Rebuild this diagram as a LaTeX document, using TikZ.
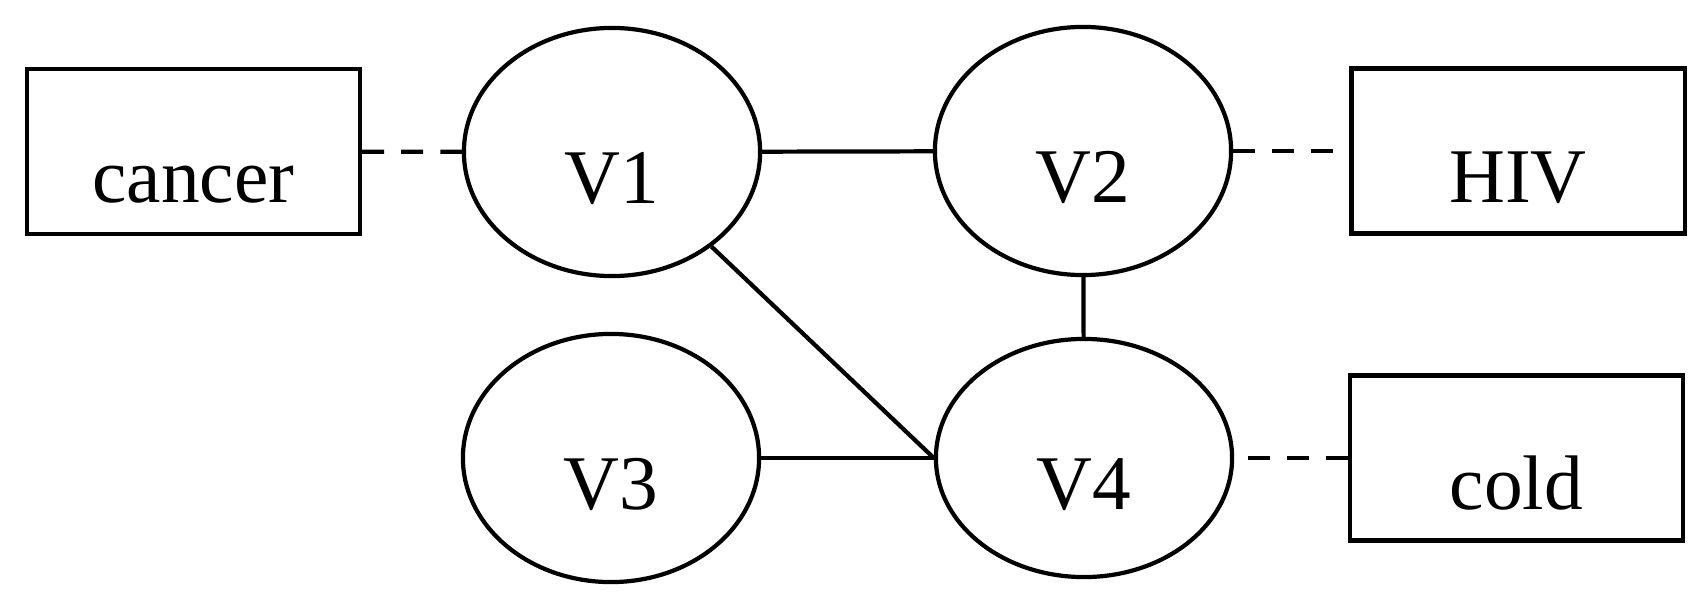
\documentclass[tikz,border=0pt]{standalone}
\usepackage{fontspec}
\setmainfont{Liberation Serif}
\usetikzlibrary{shapes.geometric}
\begin{document}
\begin{tikzpicture}[x=0.01cm, y=-0.01cm, line width=1.2pt,
    every node/.style={font=\fontsize{22}{26}\selectfont, inner sep=0pt, text height=1.02cm, text depth=0pt},
    var/.style={draw, ellipse, minimum width=2.96cm, minimum height=2.48cm},
    disease/.style={draw, rectangle, minimum width=3.33cm, minimum height=1.65cm},
    assoc/.style={dash pattern=on 0.22cm off 0.17cm}]

      % גבולות התמונה
      \useasboundingbox (0,0) rectangle (1706,603);

      % משתנים חבויים
      \node[var] (V1) at (612,152) {V1};
      \node[var] (V2) at (1083,151) {V2};
      \node[var] (V3) at (611,458) {V3};
      \node[var, minimum height=2.38cm] (V4) at (1084,458) {V4};

      % מחלות
      \node[disease] (cancer) at (193.5,151.5) {cancer};
      \node[disease] (HIV) at (1518,151) {HIV};
      \node[disease] (cold) at (1516.5,458) {cold};

      % קשרים בין המשתנים
      \draw (V1) -- (V2);
      \draw (V1) -- (V4.west);
      \draw (V2) -- (V4);
      \draw (V3) -- (V4);

      % קשרים למחלות (מקווקו)
      \draw[assoc] (cancer) -- (V1);
      \draw[assoc] (V2) -- (HIV);
      \draw[assoc] (cold) -- (V4);

    \end{tikzpicture}
\end{document}
